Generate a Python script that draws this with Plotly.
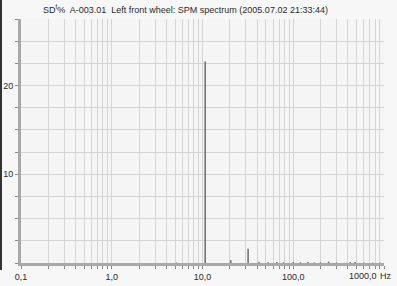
import plotly.graph_objects as go

# ---- data ----
freq_hz = [5.2, 10.7, 20.5, 31.8, 42, 53, 66, 78, 100, 120, 145, 170, 200, 245, 300, 425, 480, 600, 750, 900]
amp_sd = [0.05, 22.7, 0.3, 1.6, 0.15, 0.08, 0.1, 0.08, 0.1, 0.08, 0.1, 0.07, 0.08, 0.15, 0.06, 0.1, 0.12, 0.06, 0.05, 0.05]

decades = [0.1, 1, 10, 100]
x_tick_labels = ["0,1", "1,0", "10,0", "100,0"]
last_label = "1000,0"
x_unit = "Hz"

y_tick_step = 2.5
y_max = 27.5
y_labeled = [10, 20]

title_text = "SD<sup>t</sup>%  A-003.01  Left front wheel: SPM spectrum (2005.07.02 21:33:44)"

# ---- build stems ----
sx, sy = [], []
for f, a in zip(freq_hz, amp_sd):
    sx += [f, f, None]
    sy += [0, a, None]

# x ticks: 1..9 per decade, labels on decades
xt_vals, xt_text = [], []
for d, lab in zip(decades, x_tick_labels):
    for m in range(1, 10):
        xt_vals.append(d * m)
        xt_text.append(lab if m == 1 else "")
xt_vals.append(1000)
xt_text.append("")

yt_vals = []
v = 0.0
while v <= y_max + 1e-9:
    yt_vals.append(v)
    v += y_tick_step
yt_text = [("%d" % t) if t in y_labeled else "" for t in yt_vals]

font = "Liberation Sans, Arial, sans-serif"
txt_col = "#2a2a2a"

fig = go.Figure()
fig.add_trace(go.Scatter(x=sx, y=sy, mode="lines",
                         line=dict(color="#6a6a6a", width=1.5),
                         hoverinfo="skip", showlegend=False))

fig.update_layout(
    width=397, height=286,
    margin=dict(l=21, r=13, t=19, b=23),
    paper_bgcolor="#f7f7f7", plot_bgcolor="#f5f5f5",
    font=dict(family=font, size=9, color=txt_col),
    title=dict(text=title_text, x=43 / 397, xanchor="left", xref="container",
               y=1 - 10 / 286, yanchor="middle", yref="container",
               font=dict(family=font, size=9, color=txt_col)),
    showlegend=False,
)
fig.update_xaxes(type="log", range=[-1, 3], automargin=False,
                 tickmode="array", tickvals=xt_vals, ticktext=xt_text,
                 ticks="outside", ticklen=3, tickcolor="#888",
                 showgrid=True, gridcolor="#d4d4d4", gridwidth=1,
                 showline=True, linecolor="#a8a8a8", linewidth=3,
                 zeroline=False, tickfont=dict(size=9, color=txt_col))
fig.update_yaxes(range=[0, y_max], automargin=False,
                 tickmode="array", tickvals=yt_vals, ticktext=yt_text,
                 ticks="outside", ticklen=3, tickcolor="#888",
                 showgrid=True, gridcolor="#d4d4d4", gridwidth=1,
                 showline=True, linecolor="#a8a8a8", linewidth=3,
                 zeroline=False, tickfont=dict(size=9, color=txt_col))

# last x label shifted left to make room for the unit
fig.add_annotation(text=last_label, xref="paper", yref="paper",
                   x=(363 - 21) / 363, y=0, xanchor="center", yanchor="top",
                   yshift=-6, showarrow=False,
                   font=dict(family=font, size=9, color=txt_col))
fig.add_annotation(text=x_unit, xref="paper", yref="paper",
                   x=(394 - 21) / 363, y=0, xanchor="right", yanchor="top",
                   yshift=-6, showarrow=False,
                   font=dict(family=font, size=9, color=txt_col))

# dark scan edge at the left of the picture
fig.add_shape(type="rect", xref="paper", yref="paper",
              x0=-21 / 363, x1=-19 / 363, y0=-7 / 244, y1=1 + 19 / 244,
              fillcolor="#333333", line=dict(width=0))

fig.write_html("out.html",
               config={"displayModeBar": False},
               post_script="document.body.style.margin='0px';"
                           "document.body.style.overflow='hidden';")
